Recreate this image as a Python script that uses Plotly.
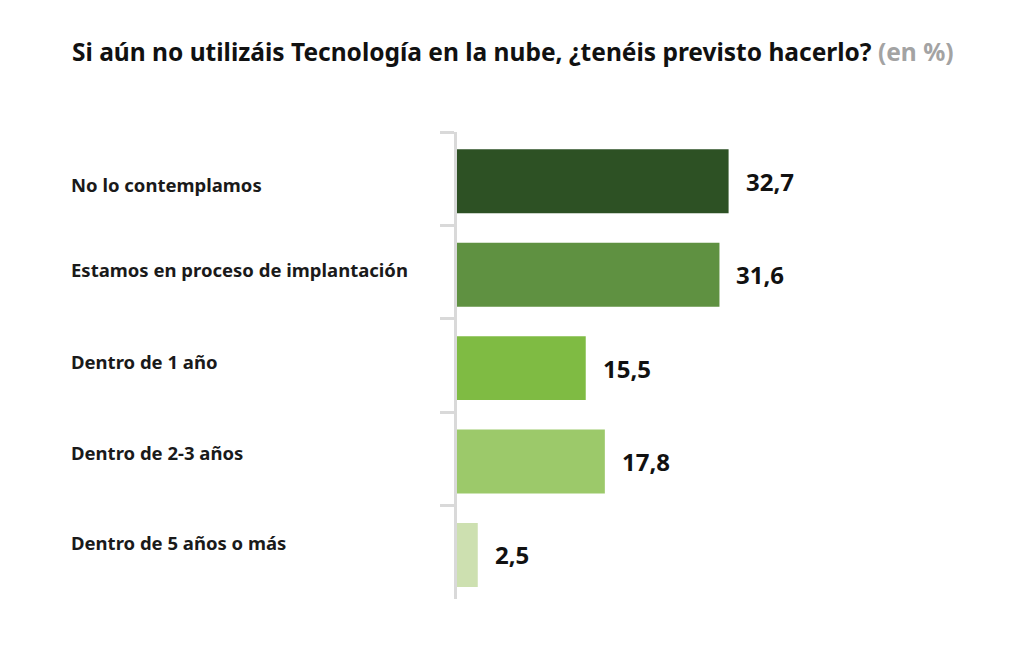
import plotly.graph_objects as go

# datos
categorias = [
    "No lo contemplamos",
    "Estamos en proceso de implantación",
    "Dentro de 1 año",
    "Dentro de 2-3 años",
    "Dentro de 5 años o más",
]
valores = [32.7, 31.6, 15.5, 17.8, 2.5]
etiquetas = ["32,7", "31,6", "15,5", "17,8", "2,5"]
colores = ["#2d5124", "#5f9141", "#7fbb43", "#9cc96a", "#cde0b0"]

FUENTE = "Noto Sans"
ANCHO_BARRA = 0.685
# en el original los textos de la izquierda no estan centrados del todo
DESPLAZ_ETIQ = [-5.5, 3, 4.5, 6, 9.5]

fig = go.Figure()
fig.add_trace(go.Bar(
    x=valores,
    y=categorias,
    orientation="h",
    width=ANCHO_BARRA,
    offset=-ANCHO_BARRA / 2 + 0.028,
    marker=dict(color=colores, line=dict(width=0)),
    hoverinfo="skip",
))

# etiquetas de categoria alineadas a la izquierda
for cat, dy in zip(categorias, DESPLAZ_ETIQ):
    fig.add_annotation(
        x=-0.776, xref="paper", y=cat, yref="y",
        text="<b>" + cat + "</b>", showarrow=False,
        xanchor="left", yanchor="middle", yshift=dy,
        font=dict(family=FUENTE, size=18.5, color="#1a1a1a"),
    )

# valores al final de cada barra
for cat, v, t in zip(categorias, valores, etiquetas):
    fig.add_annotation(
        x=v, xref="x", y=cat, yref="y",
        text="<b>" + t + "</b>", showarrow=False, xanchor="left", yanchor="middle",
        xshift=15, yshift=-2.5,
        font=dict(family=FUENTE, size=24, color="#111111"),
    )

# la pagina deja 8 px de margen, se compensa en los margenes
fig.update_layout(
    width=1012, height=646,
    margin=dict(l=449, r=63, t=124, b=55),
    paper_bgcolor="white", plot_bgcolor="white",
    showlegend=False,
    title=dict(
        text="<b>Si aún no utilizáis Tecnología en la nube, ¿tenéis previsto hacerlo?</b>"
             " <span style='color:#a3a3a3'><b>(en %)</b></span>",
        x=64 / 1012, xref="container", xanchor="left",
        y=1 - 44 / 646, yref="container", yanchor="middle",
        font=dict(family=FUENTE, size=24.5, color="#111111"),
    ),
    xaxis=dict(range=[0, 60.2], visible=False, fixedrange=True),
    yaxis=dict(
        autorange="reversed",
        showticklabels=False,
        showgrid=False, zeroline=False,
        showline=True, linecolor="#d9d9d9", linewidth=2.5,
        ticks="outside", tickson="boundaries", ticklen=14,
        tickcolor="#d9d9d9", tickwidth=2.5,
        fixedrange=True,
    ),
)

fig.write_html("out.html")
